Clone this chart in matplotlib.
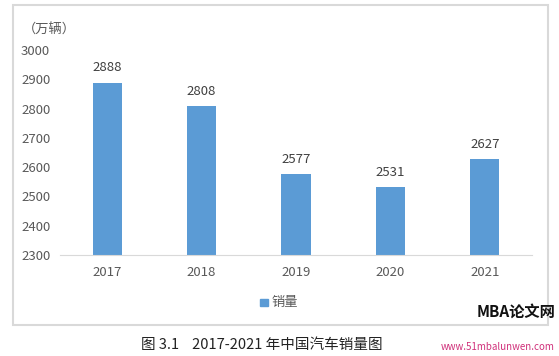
"""2017-2021 年中国汽车销量柱状图"""

import matplotlib
matplotlib.use('Agg')
import matplotlib.pyplot as plt
from matplotlib.patches import Rectangle

plt.rcParams['font.family'] = ['Noto Sans CJK SC', 'DejaVu Sans']

years = ['2017', '2018', '2019', '2020', '2021']
sales = [2888, 2808, 2577, 2531, 2627]
y_ticks = [2300, 2400, 2500, 2600, 2700, 2800, 2900, 3000]

bar_color = '#5B9BD5'
text_gray = '#595959'

fig = plt.figure(figsize=(5.59, 3.56), dpi=100)
ax = fig.add_axes([0.1073, 0.2837, 0.8444, 0.5758])

x = range(len(years))
bars = ax.bar(x, sales, width=0.31, color=bar_color, zorder=2)
ax.set_xlim(-0.5, 4.5)
ax.set_ylim(2300, 3000)
ax.set_yticks(y_ticks)
ax.set_xticks(list(x))
ax.set_xticklabels(years)

for b, v in zip(bars, sales):
    ax.annotate(str(v), (b.get_x() + b.get_width() / 2, v), xytext=(0, 6),
                textcoords='offset points', ha='center', va='bottom',
                fontsize=9.5, color='#404040')

for s in ['top', 'right', 'left']:
    ax.spines[s].set_visible(False)
ax.spines['bottom'].set_color('#D9D9D9')
ax.tick_params(axis='both', length=0, labelsize=9.5, labelcolor=text_gray)
ax.tick_params(axis='x', pad=8)
ax.tick_params(axis='y', pad=7)

# unit label and legend
fig.text(0.040, 0.915, '（万辆）', fontsize=9.5, color=text_gray, va='center')
fig.patches.append(Rectangle((0.466, 0.140), 0.013, 0.021, transform=fig.transFigure,
                             color=bar_color))
fig.text(0.485, 0.150, '销量', fontsize=9.5, color=text_gray, va='center')

# chart frame
fig.patches.append(Rectangle((0.024, 0.087), 0.956, 0.899, transform=fig.transFigure,
                             fill=False, edgecolor='#D9D9D9', linewidth=1.5))

# caption
fig.text(0.468, 0.03, '图 3.1    2017-2021 年中国汽车销量图', fontsize=10.5,
         color='#222222', ha='center', va='center')

# watermark
fig.text(0.993, 0.125, 'MBA论文网', fontsize=11, fontweight='bold', style='italic',
         ha='right', va='center', color='#111111')
fig.text(0.993, 0.025, 'www.51mbalunwen.com', fontsize=7, style='italic',
         ha='right', va='center', color='#D0307A')

fig.savefig('out.png', dpi=100)
